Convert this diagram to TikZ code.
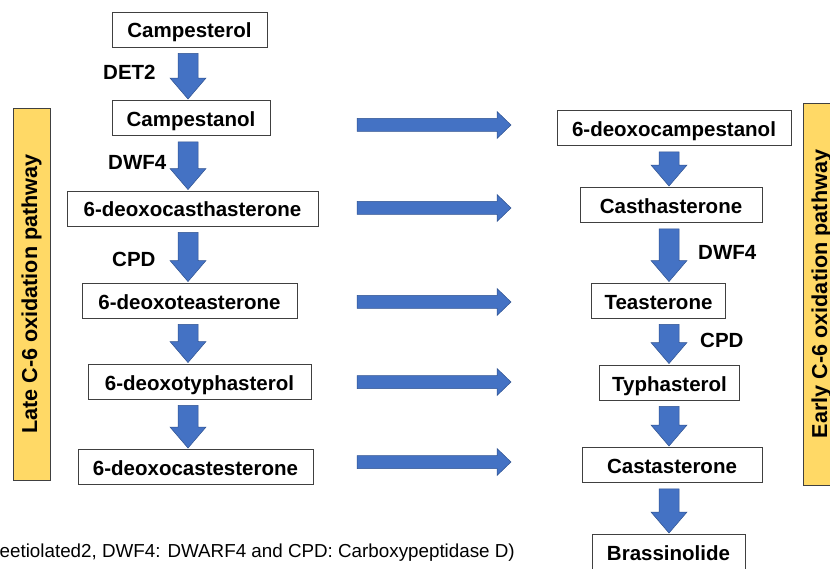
\documentclass[tikz,border=0pt]{standalone}
\usepackage{fontspec}
\setmainfont{Liberation Sans}
\usetikzlibrary{calc}
\definecolor{arrowblue}{HTML}{4472C4}
\definecolor{arrowedge}{HTML}{2F528F}
\definecolor{baryellow}{HTML}{FFD966}
\definecolor{boxline}{HTML}{404040}
\tikzset{
  box/.style = {draw = boxline, fill = white, line width = 0.9pt, inner xsep = 13pt,
    minimum height = 35pt, text height = 19pt, text depth = 2pt,
    font = \bfseries\fontsize{20.5}{24}\selectfont},
  enz/.style = {inner sep = 0, anchor = base west, font = \bfseries\fontsize{20.5}{24}\selectfont},
  bar/.style = {draw = boxline, fill = baryellow, line width = 0.8pt, rotate = 90,
    minimum height = 37pt, inner sep = 0, font = \bfseries\fontsize{21.6}{24}\selectfont},
  blockarrow/.style args = {#1/#2/#3/#4/#5}{fill = arrowblue, draw = arrowedge, line width = 0.5pt,
    to path = {let \p1 = ($(\tikztostart)!#4!(\tikztotarget)$),
                   \p2 = ($(\tikztotarget)!#5!(\tikztostart)$),
                   \n1 = {atan2(\y2-\y1,\x2-\x1)} in
      ($(\p1)+({\n1+90}:#1)$) -- ($(\p2)+({\n1+180}:#3)+({\n1+90}:#1)$)
      -- ($(\p2)+({\n1+180}:#3)+({\n1+90}:#2)$) -- (\p2)
      -- ($(\p2)+({\n1+180}:#3)+({\n1-90}:#2)$) -- ($(\p2)+({\n1+180}:#3)+({\n1-90}:#1)$)
      -- ($(\p1)+({\n1-90}:#1)$) -- cycle}},
  downarr/.style = {blockarrow = 10pt/18pt/21pt/6pt/1pt},
  rightarr/.style = {blockarrow = 6.5pt/13.5pt/14pt/0pt/0pt}
}

\begin{document}
\begin{tikzpicture}[x = 1pt, y = -1pt]
  \useasboundingbox (0, 0) rectangle (830, 569);
  \clip (0, 0) rectangle (830, 569);

  % side bars
  \node [bar, minimum width = 372pt] (late) at (31.5, 294) {Late C-6 oxidation pathway};
  \node [bar, minimum width = 382pt] (early) at (821.5, 294) {Early C-6 oxidation pathway};

  % late pathway
  \node [box, minimum width = 155pt] (cster) at (189.5, 29.5) {Campesterol};
  \node [box, minimum width = 158pt] (cstan) at (191, 118) {Campestanol};
  \node [box, minimum width = 251pt] (dcs) at (192.5, 208.5) {6-deoxocasthasterone};
  \node [box, minimum width = 215pt] (dte) at (189.5, 300.5) {6-deoxoteasterone};
  \node [box, minimum width = 223pt] (dty) at (199.5, 381.5) {6-deoxotyphasterol};
  \node [box, minimum width = 235pt] (dcast) at (195.5, 467) {6-deoxocastesterone};

  % early pathway
  \node [box, minimum width = 234pt] (dcmp) at (674, 128) {6-deoxocampestanol};
  \node [box, minimum width = 182pt] (cth) at (671, 205) {Casthasterone};
  \node [box, minimum width = 133pt] (tea) at (658.5, 300.5) {Teasterone};
  \node [box, minimum width = 137pt] (typ) at (669.5, 382.5) {Typhasterol};
  \node [box, minimum width = 180pt] (cas) at (672, 465) {Castasterone};
  \node [box, minimum width = 153pt] (bra) at (668.5, 552) {Brassinolide};

  \coordinate (lx) at (188, 0);
  \coordinate (rx) at (669, 0);
  \foreach \a/\b in {cster/cstan, cstan/dcs, dcs/dte, dte/dty, dty/dcast} {
    \draw [downarr] (\a.south -| lx) to (\b.north -| lx);
  }
  \foreach \a/\b in {dcmp/cth, cth/tea, tea/typ, typ/cas, cas/bra} {
    \draw [downarr] (\a.south -| rx) to (\b.north -| rx);
  }

  \foreach \y [count = \i] in {125, 208, 302, 382, 462} {
    \coordinate (hs\i) at (357, \y);
    \coordinate (he\i) at (511, \y);
    \draw [rightarr] (hs\i) to (he\i);
  }

  % enzymes
  \node [enz] (det) at (103, 79.5) {DET2};
  \node [enz] (dwfl) at (108, 170) {DWF4};
  \node [enz] (cpdl) at (112, 267) {CPD};
  \node [enz] (dwfr) at (698, 260) {DWF4};
  \node [enz] (cpdr) at (700, 347) {CPD};

  \node [inner sep = 0, anchor = base east, font = \fontsize{18.8}{22}\selectfont] (note) at (515, 557)
    {eetiolated2, DWF4: DWARF4 and CPD: Carboxypeptidase D)};
\end{tikzpicture}
\end{document}
